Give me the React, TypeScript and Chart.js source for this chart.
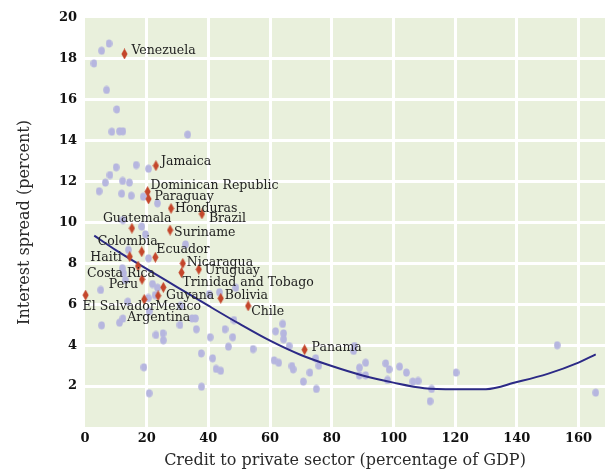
import React, { useEffect, useRef } from "react";
import { Chart, registerables } from "chart.js";

Chart.register(...registerables);

// ---- data ----
const otherX = [
  7.8, 5.4, 2.9, 7.0, 10.3, 8.7, 11.2, 12.3, 33.3, 10.1, 16.6, 20.6, 8.1, 6.6, 12.2, 14.4,
  4.6, 11.9, 15.0, 18.9, 23.5, 12.3, 18.4, 19.6, 32.6, 14.1, 20.6, 12.1, 12.5, 13.1, 5.1,
  21.9, 23.5, 20.5, 22.7, 48.9, 40.3, 43.6, 13.9, 20.8, 31.0, 12.3, 11.2, 5.4, 30.8, 34.7,
  35.8, 36.1, 23.0, 25.3, 25.4, 40.6, 45.4, 47.9, 48.3, 46.5, 37.7, 41.4, 54.5, 42.5, 44.0,
  19.1, 37.8, 20.8, 61.8, 61.3, 64.1, 64.4, 64.4, 66.2, 62.8, 67.1, 67.5, 72.9, 70.8, 75.0,
  74.8, 75.8, 87.4, 87.1, 89.0, 91.0, 88.9, 91.0, 97.5, 98.6, 98.1, 102.0, 104.2, 106.3,
  108.0, 112.4, 111.9, 120.3, 153.1, 165.6,
];
const otherY = [
  18.75, 18.4, 17.78, 16.48, 15.53, 14.44, 14.46, 14.46, 14.3, 12.7, 12.81, 12.63, 12.32,
  11.95, 12.03, 11.95, 11.53, 11.41, 11.31, 11.26, 10.94, 10.12, 9.8, 9.42, 8.93, 8.66, 8.25,
  7.76, 7.52, 7.19, 6.7, 6.99, 6.81, 6.31, 6.45, 6.81, 6.5, 6.59, 6.13, 5.66, 5.92, 5.3, 5.1,
  4.97, 4.99, 5.31, 5.31, 4.78, 4.5, 4.58, 4.24, 4.39, 4.78, 4.39, 5.23, 3.93, 3.6, 3.36,
  3.81, 2.84, 2.75, 2.92, 1.97, 1.65, 4.68, 3.26, 5.04, 4.58, 4.29, 3.96, 3.14, 2.98, 2.82,
  2.66, 2.22, 1.86, 3.36, 3.0, 3.96, 3.72, 2.9, 3.14, 2.53, 2.53, 3.11, 2.82, 2.3, 2.95, 2.66,
  2.22, 2.25, 1.86, 1.26, 2.66, 4.0, 1.68,
];

const countries = [
  "Venezuela", "Jamaica", "Dominican Republic", "Paraguay", "Honduras", "Brazil",
  "Guatemala", "Suriname", "Colombia", "Haiti", "Ecuador", "Nicaragua", "Uruguay",
  "Costa Rica", "Peru", "Trinidad and Tobago", "Guyana", "Bolivia", "Chile", "Panama",
  "El Salvador", "Mexico", "Argentina",
];
const countryCredit = [
  12.8, 23.0, 20.3, 20.6, 27.9, 37.9, 15.2, 27.6, 18.4, 14.5, 22.8, 31.7, 36.9, 17.2, 18.5,
  31.3, 23.7, 44.0, 52.9, 71.2, 0.2, 25.4, 19.2,
];
const countrySpread = [
  18.24, 12.78, 11.51, 11.15, 10.69, 10.42, 9.72, 9.63, 8.57, 8.33, 8.3, 8.0, 7.71, 7.87,
  7.22, 7.55, 6.42, 6.29, 5.92, 3.78, 6.45, 6.83, 6.24,
];

const fitX = [3, 10, 20, 30, 40, 50, 60, 70, 80, 90, 100, 110, 120, 130, 140, 150, 160, 165.6];
const fitY = [9.36, 8.65, 7.73, 6.83, 5.93, 5.05, 4.22, 3.52, 2.98, 2.52, 2.17, 1.9, 1.85, 1.85, 2.2, 2.6, 3.15, 3.55];

const xTickValues = [0, 20, 40, 60, 80, 100, 120, 140, 160];
const yTickValues = [0, 2, 4, 6, 8, 10, 12, 14, 16, 18, 20];

// label placement (pixel offset from the marker, text alignment)
const labelOffsets: Record<string, [number, number, CanvasTextAlign]> = {
  Venezuela: [7, -3, "left"],
  Jamaica: [5, -4, "left"],
  "Dominican Republic": [3, -6, "left"],
  Paraguay: [6, -2, "left"],
  Honduras: [4, 0, "left"],
  Brazil: [7, 5, "left"],
  Guatemala: [-29, -9, "left"],
  Suriname: [4, 3, "left"],
  Colombia: [-44, -10, "left"],
  Haiti: [-8, 1, "right"],
  Ecuador: [1, -8, "left"],
  Nicaragua: [4, -1, "left"],
  Uruguay: [6, 1, "left"],
  "Costa Rica": [-51, 8, "left"],
  Peru: [-4, 5, "right"],
  "Trinidad and Tobago": [1, 10, "left"],
  Guyana: [8, 0, "left"],
  Bolivia: [4, -3, "left"],
  Chile: [3, 6, "left"],
  Panama: [7, -2, "left"],
  "El Salvador": [-3, 12, "left"],
  Mexico: [-8, 19, "left"],
  Argentina: [-17, 18, "left"],
};

const BG = "#e9f0dc";
const BLUE = "#b6b6df";
const RED = "#c4462b";
const NAVY = "#2c2a86";
const SERIF = "'DejaVu Serif', serif";

function makeEllipse(): HTMLCanvasElement {
  const c = document.createElement("canvas");
  c.width = 7;
  c.height = 9;
  const g = c.getContext("2d")!;
  g.fillStyle = BLUE;
  g.beginPath();
  g.ellipse(3.5, 4.5, 3.3, 4.1, 0, 0, Math.PI * 2);
  g.fill();
  return c;
}

function makeDiamond(): HTMLCanvasElement {
  const c = document.createElement("canvas");
  c.width = 7;
  c.height = 11;
  const g = c.getContext("2d")!;
  g.fillStyle = RED;
  g.beginPath();
  g.moveTo(3.5, 0);
  g.lineTo(6.6, 5.5);
  g.lineTo(3.5, 11);
  g.lineTo(0.4, 5.5);
  g.closePath();
  g.fill();
  return c;
}

const bgPlugin = {
  id: "plotBg",
  beforeDraw(chart: any) {
    const { ctx, chartArea } = chart;
    ctx.save();
    ctx.fillStyle = BG;
    ctx.fillRect(chartArea.left, chartArea.top, chartArea.right - chartArea.left, chartArea.bottom - chartArea.top);
    ctx.restore();
  },
};

const labelPlugin = {
  id: "countryLabels",
  afterDatasetsDraw(chart: any) {
    const { ctx, scales } = chart;
    ctx.save();
    ctx.font = `12.5px ${SERIF}`;
    ctx.fillStyle = "#222";
    ctx.textBaseline = "middle";
    countries.forEach((name, i) => {
      const px = scales.x.getPixelForValue(countryCredit[i]);
      const py = scales.y.getPixelForValue(countrySpread[i]);
      const [dx, dy, align] = labelOffsets[name] || [6, 0, "left"];
      ctx.textAlign = align;
      ctx.fillText(name, px + dx, py + dy);
    });
    ctx.restore();
  },
};

export default function App() {
  const ref = useRef<HTMLCanvasElement | null>(null);

  useEffect(() => {
    if (!ref.current) return;
    const ellipse = makeEllipse();
    const diamond = makeDiamond();
    const chart = new Chart(ref.current, {
      type: "scatter",
      data: {
        datasets: [
          {
            label: "Highlighted",
            data: countryCredit.map((x, i) => ({ x, y: countrySpread[i] })),
            pointStyle: diamond as any,
            pointRadius: 5,
            clip: false as any,
            order: 0,
          },
          {
            label: "Fit",
            type: "line" as any,
            data: fitX.map((x, i) => ({ x, y: fitY[i] })),
            borderColor: NAVY,
            borderWidth: 2,
            pointRadius: 0,
            showLine: true,
            fill: false,
            cubicInterpolationMode: "monotone",
            order: 1,
          } as any,
          {
            label: "Others",
            data: otherX.map((x, i) => ({ x, y: otherY[i] })),
            pointStyle: ellipse as any,
            pointRadius: 5,
            order: 2,
          },
        ],
      },
      options: {
        responsive: false,
        animation: false,
        devicePixelRatio: 1,
        events: [],
        layout: { padding: { left: 11, right: 0, top: 18, bottom: 0 } },
        plugins: { legend: { display: false }, tooltip: { enabled: false } },
        scales: {
          x: {
            type: "linear",
            min: 0,
            max: 168.6,
            afterBuildTicks: (s: any) => {
              s.ticks = xTickValues.map((v) => ({ value: v }));
            },
            afterFit: (s: any) => {
              s.height = 45;
            },
            grid: {
              color: (c: any) => (c.tick && c.tick.value === 0 ? "rgba(0,0,0,0)" : "#ffffff"),
              lineWidth: 3,
              drawTicks: false,
            },
            border: { display: false },
            ticks: {
              padding: 4,
              color: "#111",
              font: { family: SERIF, size: 13, weight: "bold" },
              maxRotation: 0,
            },
            title: {
              display: true,
              text: "Credit to private sector (percentage of GDP)",
              color: "#2a2a2a",
              font: { family: SERIF, size: 16 },
              padding: { top: 0, bottom: 2 },
            },
          },
          y: {
            type: "linear",
            min: 0,
            max: 20,
            afterBuildTicks: (s: any) => {
              s.ticks = yTickValues.map((v) => ({ value: v }));
            },
            afterFit: (s: any) => {
              s.width = 74;
            },
            grid: {
              color: (c: any) =>
                c.tick && (c.tick.value === 0 || c.tick.value === 20) ? "rgba(0,0,0,0)" : "#ffffff",
              lineWidth: 3,
              drawTicks: false,
            },
            border: { display: false },
            ticks: {
              padding: 8,
              color: "#111",
              font: { family: SERIF, size: 13, weight: "bold" },
              callback: (v: any) => (v === 0 ? "" : String(v)),
            },
            title: {
              display: true,
              text: "Interest spread (percent)",
              color: "#2a2a2a",
              font: { family: SERIF, size: 16 },
              padding: { top: 4, bottom: 0 },
            },
          },
        },
      },
      plugins: [bgPlugin, labelPlugin],
    } as any);
    return () => chart.destroy();
  }, []);

  return (
    <canvas
      ref={ref}
      width={611}
      height={472}
      style={{ position: "absolute", left: 0, top: 0, width: 611, height: 472 }}
    />
  );
}
